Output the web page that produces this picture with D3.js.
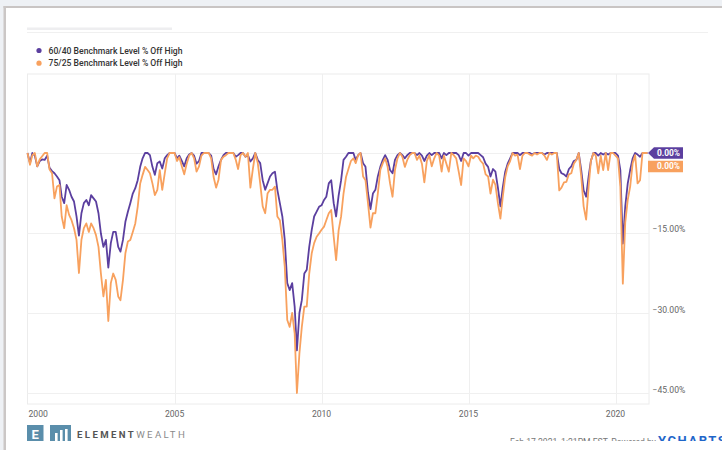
<!DOCTYPE html>
<html>
<head>
<meta charset="utf-8">
<script src="https://cdn.jsdelivr.net/npm/d3@7"></script>
<style>
  body { margin: 0; background: #fff; }
  svg { display: block; font-family: Roboto, "Noto Sans", sans-serif; }
</style>
</head>
<body>
<svg width="722" height="450"></svg>
<script>
// monthly points, Jan 2000 .. Feb 2021 (% off high)
const seriesNames = ['60/40 Benchmark Level % Off High', '75/25 Benchmark Level % Off High'];
const seriesColors = ['#5b3f9f', '#f8a15e'];

const bench6040 = [
  0, -1.9, 0, -0.5, -2.5, -1.5, -1.2, -1.3, -0.5, -2.8, -3.4, -3.8,          // 2000
  -4.4, -5.1, -8.2, -9.4, -6, -6.9, -8.2, -9.1, -11.9, -15.5, -11.3, -9.4,    // 2001
  -8.8, -9.8, -7.9, -8.5, -9.1, -11.3, -15.1, -17.6, -16.3, -21.5, -16.9, -14.8, // 2002
  -14.8, -17.6, -18.5, -16.3, -12.9, -11, -9.4, -7.6, -6.6, -5.1, -2.6, -1,   // 2003
  0, 0, -0.4, -2.6, -4.1, -1.9, -1.6, -2.9, -1, -0.4, 0, 0,                   // 2004
  0, -1, -0.5, -1.5, -2.5, -1, -0.3, 0, -0.5, -2, -1.5, 0,                    // 2005
  0, 0, 0, -0.5, -3, -4, -2.5, -1.3, -0.4, 0, 0, 0,                           // 2006
  0, -0.7, -0.4, 0, 0, -0.7, -0.4, -1.6, -1, 0, -1.3, -1.9,                   // 2007
  -5.1, -6.9, -5.7, -4.4, -3.8, -3.5, -6.9, -9.4, -11.9, -16.3, -24.4, -25.7, // 2008
  -24.4, -28.8, -37, -30, -27.6, -22.6, -21.9, -17.6, -14.4, -11.9, -11, -10.1, // 2009
  -9.8, -8.8, -8.2, -5.7, -5.1, -9.4, -11.9, -8, -5.1, -1.3, -0.7, 0,         // 2010
  0, 0, -1.3, -0.4, 0, -1.9, -2.6, -7.5, -10.5, -7.6, -6.9, -4.4,             // 2011
  -2.6, -1.3, -0.4, -1.3, -3.2, -3.8, -1.3, -0.4, 0, -0.4, -1, -0.4,          // 2012
  0, 0, 0, -0.4, 0, -0.5, -1.5, -0.5, 0, -0.4, 0, 0,                          // 2013
  0, -1, 0, -0.4, 0, 0, 0, 0, -0.4, -1.5, 0, 0,                               // 2014
  -0.5, 0, 0, 0, 0, -0.4, -0.8, -2, -2.6, -4.4, -3, -3.5,                     // 2015
  -6.5, -10, -6.5, -3.5, -2, -1, 0, 0, 0, -0.4, 0, 0,                         // 2016
  0, 0, -0.3, 0, 0, 0, 0, -0.3, 0, 0, 0, 0,                                   // 2017
  0, -3, -3.8, -4, -4.4, -3, -2.5, -1.5, -1.3, 0, -3.2, -7,                   // 2018
  -8.2, -4.4, -1.5, 0, 0, -0.5, 0, -0.3, 0, -0.3, 0, 0,                       // 2019
  0, -0.5, -3.2, -17, -10, -5.7, -3.2, -1, 0, -0.3, -0.7, 0,                  // 2020
  0, 0                                                                        // 2021
];

const bench7525 = [
  0, -2.2, -0.4, 0, -2.5, -1.2, -0.6, 0, 0, -3.1, -3.8, -8.5,                 // 2000
  -6.3, -6, -11.9, -14.1, -9.8, -11.6, -12.6, -14.1, -16.3, -22.5, -16.3, -14.1, // 2001
  -13.2, -14.8, -13.2, -14.1, -15.4, -17.6, -22.6, -26.9, -23.8, -31.5, -24.4, -22.6, // 2002
  -23.8, -26.9, -27.6, -23.8, -18.8, -16.6, -16.3, -14.8, -13.2, -10.1, -5.7, -4.1, // 2003
  -2.6, -3.2, -3.8, -5.7, -7.9, -6.9, -3.2, -6.9, -3.8, -1, 0, 0,             // 2004
  0, -1.5, -0.8, -2.5, -4, -2, -0.5, 0, -1, -3.5, -2.5, -0.5,                 // 2005
  0, 0, 0, -1, -4.5, -6.5, -5, -1.3, -0.7, -0.4, 0, 0,                        // 2006
  0, -1.3, -3, -0.4, 0, -0.7, 0, -6.5, -3, 0, -1.9, -5.7,                     // 2007
  -10, -11.3, -7.6, -6.9, -6.9, -6.3, -11.9, -12.6, -16.3, -21.3, -31.3, -32.6, // 2008
  -30, -33.8, -45, -37.6, -32.6, -28.8, -28.8, -22.6, -18.8, -16.9, -15.7, -15.1, // 2009
  -14.4, -13.8, -12.6, -11.3, -10.7, -15.7, -20.1, -14.5, -11.9, -7.6, -4.5, -3, // 2010
  -1.5, -1, -1.9, -0.4, 0, -4.4, -5.1, -9.4, -14, -11.3, -11.3, -7.6,         // 2011
  -3.2, -1.9, -1, -2.6, -5.7, -8.2, -3.2, -1, 0, -0.7, -2.6, -1.3,            // 2012
  -0.4, 0, 0, -1.3, -0.5, -2, -5.5, -1.5, -0.4, -2.5, -1, 0,                  // 2013
  -0.5, -3.5, -0.5, -2, -3.5, 0, -0.4, -1, -3.5, -6, -1, -1.5,                // 2014
  -2.5, -0.5, -1, -0.5, -0.7, -1.5, -2, -4, -4.4, -7.6, -5, -6,               // 2015
  -9.4, -12.3, -8.3, -4.5, -2.5, -1.5, 0, -0.5, -0.3, -3, -0.5, 0,            // 2016
  0, -0.3, -0.5, 0, -0.3, 0, 0, -0.5, -1.3, 0, -0.3, 0,                       // 2017
  0, -7, -6.5, -5.5, -5.4, -4, -3.8, -2, -1.3, 0, -4.4, -10,                  // 2018
  -12.5, -6.3, -1.5, 0, -0.5, -3.8, -0.5, -3.2, 0, -3.2, 0, 0,                // 2019
  -0.5, -1, -6.3, -24.5, -13, -8.8, -6.3, -1.9, -0.4, -5.7, -5.1, 0,          // 2020
  0, 0                                                                        // 2021
];

const months = d3.timeMonth.range(new Date(2000, 0, 1), new Date(2021, 2, 1));
const xTickYears = [2000, 2005, 2010, 2015, 2020];
const yTicks = [-15, -30, -45];
const yGrid = [0, -15, -30, -45];
const lastLabels = ['0.00%', '0.00%'];

const svg = d3.select('svg');
const width = +svg.attr('width');
const height = +svg.attr('height');

// page chrome
svg.append('rect').attr('width', width).attr('height', height).attr('fill', '#eef1f5');
svg.append('rect').attr('x', 6).attr('y', 8).attr('width', width - 6).attr('height', height - 8).attr('fill', '#fff');
svg.append('rect').attr('x', 3.5).attr('y', 6).attr('width', width).attr('height', 2).attr('fill', '#c9c5c4');
svg.append('rect').attr('x', 3.5).attr('y', 6).attr('width', 2.5).attr('height', height).attr('fill', '#cbc7c6');

// faint (blurred) title + separator
svg.append('rect').attr('x', 27).attr('y', 27.5).attr('width', 145).attr('height', 2.5).attr('fill', '#eeeef0');
svg.append('line').attr('x1', 27).attr('x2', 708).attr('y1', 32.5).attr('y2', 32.5).attr('stroke', '#f0f0f0');

// legend
const legend = svg.append('g');
seriesNames.forEach((name, i) => {
  const g = legend.append('g').attr('transform', `translate(0, ${i * 12.7})`);
  g.append('circle').attr('cx', 39).attr('cy', 50.5).attr('r', 2.6).attr('fill', seriesColors[i]);
  g.append('text').attr('x', 48.5).attr('y', 53.5)
    .attr('font-size', 9.2).attr('font-weight', 500).attr('fill', '#333')
    .attr('textLength', 134).attr('lengthAdjust', 'spacingAndGlyphs')
    .text(name);
});

const plot = { left: 27.5, right: 649, top: 74, bottom: 404 };

const x = d3.scaleTime()
  .domain([new Date(2000, 0, 1), new Date(2021, 1, 20)])
  .range([plot.left, plot.right]);
const y = d3.scaleLinear()
  .domain([-47.06, 14.81])
  .range([plot.bottom, plot.top]);

// frame + grid
svg.append('rect')
  .attr('x', plot.left).attr('y', plot.top)
  .attr('width', plot.right - plot.left).attr('height', plot.bottom - plot.top)
  .attr('fill', 'none').attr('stroke', '#ececec');

svg.append('g').selectAll('line').data(xTickYears.slice(1)).join('line')
  .attr('x1', d => Math.round(x(new Date(d, 0, 1))) + 0.5)
  .attr('x2', d => Math.round(x(new Date(d, 0, 1))) + 0.5)
  .attr('y1', plot.top).attr('y2', plot.bottom)
  .attr('stroke', '#efefef');

svg.append('g').selectAll('line').data(yGrid).join('line')
  .attr('x1', plot.left).attr('x2', plot.right)
  .attr('y1', d => Math.round(y(d)) + 0.5)
  .attr('y2', d => Math.round(y(d)) + 0.5)
  .attr('stroke', '#f0f0f0');

// axis labels
svg.append('g').selectAll('text').data(xTickYears).join('text')
  .attr('x', (d, i) => i === 0 ? plot.left + 1 : x(new Date(d, 0, 1)))
  .attr('y', 416.5)
  .attr('text-anchor', (d, i) => i === 0 ? 'start' : 'middle')
  .attr('font-size', 8.6).attr('fill', '#666')
  .text(d => d);

svg.append('g').selectAll('text').data(yTicks).join('text')
  .attr('x', 652.5)
  .attr('y', d => y(d) - 0.5)
  .attr('font-size', 8.6).attr('fill', '#666')
  .text(d => d3.format('.2f')(d) + '%');

// lines
const line = d3.line()
  .x((d, i) => x(months[i]))
  .y(d => y(d));

[bench6040, bench7525].forEach((vals, i) => {
  svg.append('path')
    .datum(vals)
    .attr('fill', 'none')
    .attr('stroke', seriesColors[i])
    .attr('stroke-width', 1.8)
    .attr('stroke-linejoin', 'round')
    .attr('d', line);
});

// last value flags
const flagY = [y(bench6040[bench6040.length - 1]), y(bench6040[bench6040.length - 1]) + 13.5];
lastLabels.forEach((lbl, i) => {
  const cy = flagY[i];
  const d = i === 0
    ? `M648,${cy} L654,${cy - 5.7} L683,${cy - 5.7} L683,${cy + 5.7} L654,${cy + 5.7} Z`
    : `M648,${cy - 5.7} L683,${cy - 5.7} L683,${cy + 5.7} L648,${cy + 5.7} Z`;
  svg.append('path').attr('d', d).attr('fill', seriesColors[i]);
  svg.append('text').attr('x', 668.5).attr('y', cy + 3)
    .attr('text-anchor', 'middle').attr('font-size', 8.4).attr('font-weight', 700)
    .attr('fill', '#fff').text(lbl);
});

// footer logo
const logo = svg.append('g');
logo.append('rect').attr('x', 27).attr('y', 425).attr('width', 16.5).attr('height', 18).attr('fill', '#5a8eab');
logo.append('text').attr('x', 35.2).attr('y', 439).attr('text-anchor', 'middle')
  .attr('font-size', 13).attr('font-weight', 700).attr('fill', '#fff').text('E');
logo.append('rect').attr('x', 50).attr('y', 425).attr('width', 21).attr('height', 18).attr('fill', '#5a8eab');
[[55, 433], [60, 430], [65, 429]].forEach(b => {
  logo.append('rect').attr('x', b[0]).attr('y', b[1]).attr('width', 2.6).attr('height', 441 - b[1]).attr('fill', '#fff');
});
const brand = logo.append('text').attr('x', 77).attr('y', 437.8)
  .attr('font-size', 9.6).attr('letter-spacing', 2.4);
brand.append('tspan').attr('font-weight', 700).attr('fill', '#555').text('ELEMENT');
brand.append('tspan').attr('fill', '#8a8a8a').text('WEALTH');

// footer credit (cut off at the bottom, as in the source)
const credit = svg.append('text').attr('x', 510).attr('y', 445).attr('font-size', 8.6).attr('fill', '#777');
credit.append('tspan').text('Feb 17 2021, 1:21PM EST. Powered by ');
credit.append('tspan').attr('font-size', 13).attr('font-weight', 700).attr('fill', '#1f66c9')
  .attr('letter-spacing', 1.6).text('YCHARTS');

// white strip covering the bottom
svg.append('rect').attr('x', 6).attr('y', 441).attr('width', width - 6).attr('height', 9).attr('fill', '#fff');
</script>
</body>
</html>
